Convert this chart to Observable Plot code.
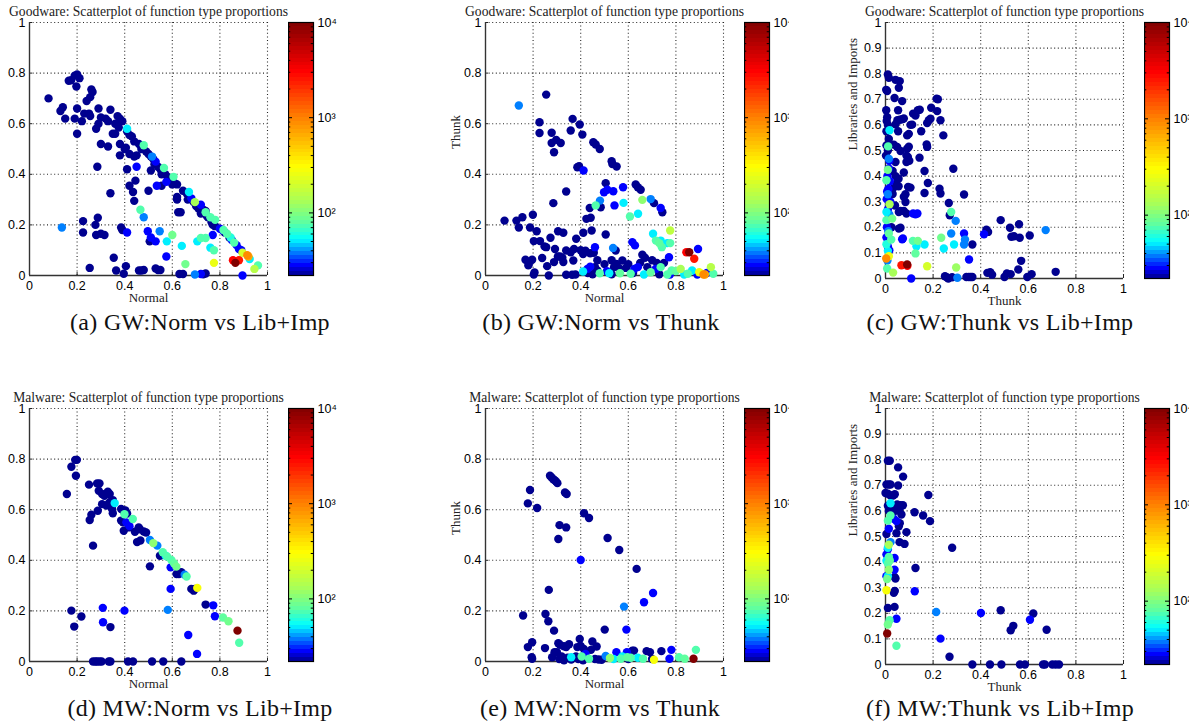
<!DOCTYPE html>
<html><head><meta charset="utf-8">
<script src="https://cdn.jsdelivr.net/npm/d3@7"></script>
<script src="https://cdn.jsdelivr.net/npm/@observablehq/plot@0.6"></script>
<style>
html,body{margin:0;padding:0;background:#fff;}
#root{position:relative;width:1197px;height:723px;overflow:hidden;background:#fff;}
.clip{position:absolute;overflow:hidden;}
.cap{position:absolute;font-family:"Liberation Serif",serif;font-size:24px;letter-spacing:0.3px;white-space:nowrap;transform:translate(-50%,-50%);color:#111;}
</style></head><body><div id="root"></div>
<script>
// ---- data: [x, y, count] ----
const gwNormLib = [
[0.08,0.70,22],[0.13,0.65,22],[0.14,0.665,22],[0.15,0.62,22],[0.165,0.77,22],[0.175,0.772,22],[0.19,0.79,22],[0.2,0.795,22],[0.21,0.78,22],[0.197,0.747,22],
[0.19,0.62,22],[0.2,0.66,22],[0.2,0.56,22],[0.22,0.61,22],[0.23,0.64,22],[0.24,0.69,22],[0.25,0.64,22],[0.255,0.63,22],[0.255,0.705,22],[0.26,0.735,22],[0.265,0.725,22],
[0.28,0.58,22],[0.29,0.66,22],[0.29,0.60,22],[0.30,0.625,22],[0.30,0.52,22],[0.32,0.62,22],[0.33,0.61,22],[0.33,0.51,22],[0.34,0.655,22],
[0.35,0.56,22],[0.36,0.56,22],[0.36,0.60,22],[0.37,0.63,22],[0.375,0.585,22],[0.38,0.62,22],[0.39,0.61,22],[0.38,0.52,22],[0.38,0.475,22],[0.285,0.43,22],[0.34,0.325,22],
[0.40,0.50,22],[0.405,0.505,22],[0.41,0.57,22],[0.42,0.555,22],[0.43,0.55,22],[0.44,0.53,22],[0.42,0.48,22],[0.41,0.42,22],[0.44,0.47,22],[0.45,0.475,22],[0.45,0.43,28],[0.46,0.52,22],[0.47,0.50,22],
[0.42,0.355,22],[0.435,0.33,22],[0.445,0.375,22],[0.44,0.295,22],[0.5,0.335,22],
[0.49,0.49,22],[0.50,0.48,22],[0.51,0.47,22],[0.52,0.46,22],[0.51,0.415,22],[0.525,0.44,22],[0.53,0.45,28],[0.54,0.43,22],[0.55,0.42,22],[0.555,0.40,22],[0.57,0.40,22],[0.58,0.39,22],[0.59,0.38,22],[0.6,0.36,22],[0.6,0.37,22],[0.61,0.365,22],[0.62,0.36,22],[0.575,0.37,28],[0.535,0.355,28],[0.555,0.355,22],
[0.62,0.30,22],[0.62,0.31,22],[0.625,0.25,22],[0.635,0.25,22],[0.645,0.335,22],[0.66,0.325,22],[0.665,0.30,22],[0.68,0.305,28],[0.69,0.29,22],[0.70,0.275,22],[0.71,0.265,22],[0.72,0.28,28],[0.73,0.26,22],[0.74,0.255,22],[0.72,0.245,22],[0.745,0.235,22],[0.75,0.23,22],[0.765,0.21,22],[0.77,0.20,22],[0.78,0.195,22],[0.77,0.16,28],
[0.80,0.185,28],[0.81,0.18,28],[0.82,0.17,22],[0.84,0.15,22],[0.85,0.14,28],[0.87,0.12,28],[0.88,0.105,28],[0.89,0.10,28],[0.895,0.0,28],
[0.41,0.58,50],[0.48,0.515,75],[0.515,0.47,38],[0.565,0.425,75],[0.605,0.39,75],[0.67,0.33,50],[0.695,0.29,130],[0.74,0.25,75],[0.76,0.23,75],[0.78,0.22,75],[0.815,0.18,75],[0.83,0.165,75],[0.845,0.15,60],[0.86,0.13,75],[0.895,0.09,200],[0.915,0.08,900],[0.92,0.075,700],[0.925,0.065,50],[0.96,0.04,75],[0.945,0.026,150],[0.855,0.06,3000],[0.865,0.05,10000],[0.88,0.06,2500],[0.775,0.05,250],[0.655,0.045,90],
[0.136,0.19,38],[0.225,0.215,22],[0.225,0.17,22],[0.277,0.20,22],[0.287,0.228,22],[0.28,0.16,22],[0.30,0.165,22],[0.315,0.16,22],
[0.385,0.19,22],[0.39,0.18,22],[0.41,0.17,28],[0.466,0.26,75],[0.48,0.23,38],[0.497,0.175,28],[0.51,0.15,28],[0.505,0.135,22],[0.547,0.175,38],[0.53,0.135,28],[0.577,0.135,50],[0.60,0.16,90],[0.575,0.075,28],[0.64,0.117,50],[0.705,0.135,50],[0.72,0.148,75],[0.74,0.148,75],[0.76,0.11,50],[0.775,0.10,75],
[0.354,0.07,22],[0.364,0.02,22],[0.253,0.03,22],[0.405,0.037,22],[0.396,0.007,22],[0.46,0.02,22],[0.47,0.02,22],[0.48,0.022,22],[0.53,0.028,22],[0.54,0.022,22],[0.55,0.022,22],[0.63,0.006,22],[0.645,0.006,22],[0.695,0.004,38],[0.72,0.006,28],[0.74,0.008,22],[0.73,0.005,22]
];
const gwNormThunk = [
[0.08,0.217,22],[0.13,0.217,22],[0.155,0.23,22],[0.14,0.19,22],[0.14,0.672,38],[0.255,0.715,22],
[0.227,0.606,22],[0.227,0.563,22],[0.278,0.564,22],[0.278,0.524,22],[0.297,0.536,22],[0.316,0.524,22],[0.288,0.487,22],
[0.366,0.619,22],[0.358,0.573,22],[0.396,0.597,22],[0.407,0.557,22],[0.386,0.428,22],[0.393,0.432,22],[0.412,0.415,28],
[0.453,0.527,22],[0.463,0.518,22],[0.48,0.50,22],[0.53,0.452,22],[0.533,0.441,22],[0.551,0.431,22],[0.505,0.365,22],
[0.498,0.329,28],[0.512,0.339,28],[0.537,0.333,28],[0.578,0.349,28],[0.631,0.36,22],[0.64,0.349,22],[0.652,0.339,22],[0.694,0.302,38],[0.708,0.286,22],[0.736,0.267,28],[0.743,0.25,22],
[0.481,0.296,38],[0.463,0.277,75],[0.484,0.27,22],[0.542,0.277,28],[0.58,0.287,50],[0.659,0.299,110],[0.607,0.233,75],[0.641,0.244,50],
[0.285,0.286,22],[0.339,0.332,22],[0.438,0.267,22],[0.442,0.228,22],[0.424,0.224,22],[0.446,0.178,22],[0.411,0.169,22],[0.381,0.145,22],[0.46,0.112,28],[0.505,0.162,22],[0.536,0.109,38],[0.547,0.099,22],[0.617,0.132,28],[0.628,0.119,28],[0.659,0.082,22],
[0.704,0.165,50],[0.716,0.138,75],[0.73,0.128,80],[0.741,0.112,75],[0.776,0.178,160],[0.776,0.128,75],[0.764,0.128,50],[0.736,0.138,50],[0.771,0.072,28],
[0.844,0.092,3000],[0.856,0.092,10000],[0.877,0.066,2500],[0.893,0.105,28],[0.947,0.033,150],[0.916,0.004,900],[0.922,0.004,700],[0.957,0.007,75],[0.898,0.013,250],
[0.168,0.062,22],[0.182,0.046,22],[0.196,0.062,22],[0.18,0.04,22],[0.203,0.004,22],[0.206,0.012,22],[0.199,0.24,22],[0.187,0.19,22],[0.215,0.175,22],[0.203,0.136,22],[0.229,0.136,22],[0.248,0.115,22],[0.255,0.112,22],[0.238,0.069,22],[0.259,0.037,22],[0.266,0.0,22],[0.273,0.149,22],[0.292,0.105,22],[0.305,0.175,22],[0.327,0.169,22],[0.304,0.075,22],[0.313,0.075,22],[0.323,0.07,22],[0.288,0.053,22],[0.327,0.053,22],[0.339,0.099,22],[0.358,0.092,22],[0.372,0.105,22],[0.369,0.059,22],[0.339,0.003,22],[0.364,0.003,22],[0.378,0.004,22],
[0.40,0.10,22],[0.41,0.085,22],[0.42,0.098,22],[0.44,0.088,22],[0.455,0.09,22],[0.47,0.06,22],
[0.43,0.01,22],[0.45,0.005,22],[0.47,0.02,22],[0.5,0.045,22],[0.53,0.06,22],[0.53,0.005,22],[0.56,0.03,22],[0.6,0.045,22],[0.62,0.01,22],[0.65,0.05,22],[0.67,0.07,22],[0.7,0.06,22],[0.72,0.05,22],[0.73,0.005,22],[0.75,0.05,22],
[0.41,0.016,50],[0.428,0.026,28],[0.44,0.035,28],[0.46,0.033,22],[0.48,0.009,75],[0.51,0.017,28],[0.52,0.009,50],[0.54,0.033,22],[0.55,0.046,22],[0.565,0.009,80],[0.575,0.059,22],[0.59,0.03,22],[0.61,0.007,75],[0.625,0.026,28],[0.64,0.033,28],[0.666,0.004,50],[0.68,0.033,22],[0.694,0.013,80],[0.715,0.026,28],[0.736,0.033,75],[0.764,0.004,75],[0.775,0.004,28],[0.782,0.02,75],[0.8,0.018,80],[0.82,0.026,130],[0.835,0.004,50],[0.85,0.007,75],[0.868,0.02,50],[0.89,0.004,28],[0.93,0.01,28]
];
const gwThunkLib = [
[0.01,0.797,22],[0.014,0.784,22],[0.003,0.737,22],[0.007,0.732,22],[0.003,0.657,22],[0.007,0.63,22],[0.005,0.615,22],[0.01,0.6,22],[0.004,0.575,22],[0.014,0.545,22],[0.004,0.52,22],[0.01,0.5,22],[0.002,0.48,22],[0.016,0.46,28],[0.014,0.43,28],[0.008,0.40,28],[0.018,0.38,28],[0.012,0.35,28],[0.005,0.31,28],[0.02,0.30,28],[0.01,0.27,28],[0.016,0.25,38],[0.006,0.2,28],[0.012,0.185,38],[0.004,0.16,28],[0.01,0.125,28],[0.016,0.11,28],
[0.017,0.579,50],[0.011,0.516,75],[0.014,0.468,38],[0.01,0.425,90],[0.004,0.384,75],[0.007,0.34,28],[0.01,0.329,38],[0.017,0.29,130],[0.004,0.228,75],[0.028,0.234,90],[0.014,0.176,80],[0.024,0.152,75],[0.004,0.134,60],[0.01,0.108,50],[0.014,0.087,250],[0.003,0.078,900],[0.007,0.039,75],[0.032,0.023,130],[0.004,0.26,50],[0.008,0.07,38],
[0.042,0.776,22],[0.06,0.771,22],[0.056,0.745,22],[0.038,0.705,22],[0.07,0.693,22],[0.053,0.657,22],[0.05,0.618,22],[0.06,0.62,22],[0.07,0.622,22],[0.077,0.625,22],[0.042,0.602,22],[0.053,0.575,22],[0.035,0.523,22],[0.049,0.514,22],[0.063,0.498,22],[0.042,0.455,22],[0.03,0.42,22],[0.042,0.4,22],[0.055,0.39,22],[0.045,0.37,22],[0.055,0.36,22],[0.03,0.35,22],[0.077,0.414,22],[0.091,0.507,22],[0.098,0.515,22],[0.088,0.48,22],[0.094,0.475,22],[0.088,0.455,22],[0.1,0.46,22],[0.091,0.559,22],[0.098,0.565,22],[0.112,0.601,22],[0.105,0.6,22],[0.095,0.358,22],[0.105,0.355,22],[0.084,0.329,22],[0.084,0.299,22],[0.077,0.319,22],[0.063,0.264,22],[0.056,0.26,22],[0.077,0.264,22],[0.088,0.254,22],[0.056,0.195,22],[0.063,0.198,22],[0.07,0.153,28],[0.03,0.33,22],[0.04,0.285,22],[0.025,0.2,22],
[0.116,0.644,22],[0.126,0.637,22],[0.136,0.657,22],[0.144,0.659,22],[0.15,0.575,22],[0.143,0.472,22],[0.164,0.42,22],[0.173,0.524,22],[0.175,0.514,22],[0.178,0.373,22],[0.164,0.334,22],[0.175,0.607,22],[0.182,0.618,22],[0.192,0.667,22],[0.189,0.624,22],[0.215,0.702,22],[0.22,0.70,22],[0.217,0.654,22],[0.231,0.618,22],[0.243,0.559,22],[0.227,0.351,22],[0.231,0.332,22],
[0.116,0.254,28],[0.126,0.251,28],[0.134,0.254,28],[0.285,0.429,22],[0.33,0.328,22],[0.266,0.295,22],[0.27,0.247,22],[0.276,0.26,75],[0.295,0.225,38],[0.276,0.176,38],[0.234,0.159,90],[0.288,0.133,50],[0.245,0.117,50],[0.297,0.043,120],[0.175,0.048,200],[0.115,0.147,75],[0.136,0.147,90],[0.13,0.126,50],[0.126,0.098,80],[0.164,0.133,50],[0.073,0.156,28],[0.067,0.052,2500],[0.091,0.055,10000],[0.092,0.05,3000],[0.108,0.0,28],
[0.25,0.009,22],[0.259,0.004,22],[0.264,0.0,22],[0.302,0.003,38],[0.28,0.005,22],[0.33,0.176,28],[0.334,0.152,38],[0.33,0.133,38],[0.365,0.133,22],[0.351,0.074,28],[0.34,0.006,22],[0.35,0.006,22],[0.358,0.006,22],[0.365,0.006,22],[0.414,0.173,28],[0.424,0.191,22],[0.431,0.182,22],[0.428,0.022,22],[0.44,0.025,22],[0.448,0.015,22],[0.484,0.228,22],[0.5,0.006,22],[0.51,0.02,22],[0.526,0.017,22],[0.523,0.198,22],[0.529,0.163,22],[0.54,0.165,22],[0.561,0.212,22],[0.564,0.159,22],[0.57,0.069,22],[0.558,0.035,22],[0.606,0.168,22],[0.596,0.006,22],[0.614,0.017,22],[0.673,0.189,38],[0.715,0.026,22]
];
const mwNormLib = [
[0.157,0.662,22],[0.176,0.77,22],[0.192,0.797,22],[0.199,0.797,22],[0.195,0.734,22],[0.25,0.699,22],[0.284,0.704,22],[0.294,0.704,22],[0.291,0.675,22],[0.305,0.662,22],[0.329,0.671,22],[0.337,0.662,22],[0.315,0.655,22],[0.305,0.622,22],[0.323,0.616,22],[0.333,0.625,22],[0.34,0.632,22],[0.35,0.638,22],[0.347,0.603,22],[0.35,0.586,22],[0.385,0.603,22],[0.395,0.597,22],[0.403,0.597,22],[0.41,0.585,22],[0.385,0.557,22],[0.393,0.55,22],[0.396,0.517,22],[0.407,0.55,28],[0.417,0.53,22],[0.443,0.513,22],[0.459,0.53,22],[0.463,0.523,22],[0.452,0.472,22],[0.466,0.478,22],[0.48,0.514,22],[0.49,0.51,22],[0.506,0.376,22],[0.548,0.418,22],[0.593,0.372,28],[0.618,0.346,22],[0.628,0.346,22],[0.638,0.353,22],[0.593,0.287,28],[0.68,0.287,22],[0.69,0.28,22],[0.695,0.287,22],[0.74,0.225,22],[0.772,0.222,28],[0.779,0.179,28],[0.704,0.03,28],[0.667,0.105,28],[0.399,0.201,28],[0.267,0.458,22],[0.253,0.559,22],[0.26,0.58,22],[0.287,0.596,22],[0.176,0.201,22],[0.218,0.178,22],[0.188,0.138,22],[0.308,0.212,28],[0.309,0.155,28],[0.34,0.136,22],
[0.358,0.626,50],[0.399,0.582,75],[0.434,0.563,75],[0.506,0.48,38],[0.52,0.468,110],[0.537,0.458,38],[0.56,0.432,75],[0.572,0.418,50],[0.578,0.415,75],[0.596,0.401,75],[0.607,0.388,80],[0.617,0.375,90],[0.652,0.343,38],[0.66,0.336,75],[0.705,0.291,280],[0.813,0.174,80],[0.836,0.159,90],[0.874,0.122,10000],[0.881,0.074,75],[0.581,0.204,38],[0.42,0.535,28],
[0.267,0,22],[0.277,0,22],[0.284,0,22],[0.294,0,22],[0.303,0,22],[0.333,0,22],[0.34,0,22],[0.414,0,22],[0.435,0,22],[0.515,0,22],[0.562,0,22],[0.638,0,22]
];
const mwNormThunk = [
[0.158,0.182,22],[0.178,0.057,22],[0.196,0.076,22],[0.194,0.017,22],[0.196,0.011,22],[0.178,0.625,22],[0.187,0.678,22],[0.217,0.607,22],[0.271,0.734,22],[0.278,0.727,22],[0.285,0.72,22],[0.29,0.717,22],[0.296,0.712,22],[0.302,0.705,22],[0.334,0.668,22],[0.341,0.662,22],[0.311,0.539,22],[0.339,0.53,22],[0.306,0.484,22],[0.414,0.586,22],[0.435,0.567,22],[0.4,0.401,28],[0.513,0.488,22],[0.562,0.441,22],[0.635,0.366,22],[0.582,0.217,38],[0.666,0.234,28],[0.704,0.271,28],[0.266,0.283,22],[0.252,0.188,22],[0.264,0.159,22],[0.288,0.122,22],[0.25,0.053,22],[0.501,0.126,22],[0.592,0.126,28],
[0.306,0.072,22],[0.313,0.066,22],[0.33,0.06,22],[0.339,0.057,22],[0.351,0.068,22],[0.396,0.089,22],[0.449,0.079,22],[0.467,0.059,22],[0.386,0.057,22],[0.4,0.061,22],[0.413,0.05,22],[0.443,0.046,22],
[0.28,0.017,22],[0.29,0.037,22],[0.3,0.037,22],[0.31,0.01,22],[0.32,0.02,22],[0.33,0.005,22],[0.345,0.015,22],[0.36,0.008,22],[0.38,0.02,22],[0.39,0.01,22],[0.41,0.005,22],[0.42,0.03,28],[0.46,0.01,22],[0.475,0.008,22],[0.488,0.007,22],
[0.36,0.017,50],[0.404,0.02,75],[0.435,0.011,75],[0.505,0.022,38],[0.523,0.014,110],[0.538,0.01,50],[0.55,0.037,28],[0.568,0.011,75],[0.575,0.02,50],[0.596,0.017,80],[0.61,0.015,75],[0.594,0.037,28],[0.617,0.043,22],[0.624,0.043,22],[0.64,0.015,50],[0.662,0.011,75],[0.677,0.041,22],[0.691,0.037,22],[0.708,0.007,280],[0.739,0.041,22],[0.781,0.046,28],[0.773,0.011,28],[0.813,0.017,75],[0.837,0.011,80],[0.884,0.046,75],[0.874,0.011,10000],[0.6,0.01,22],[0.7,0.01,22]
];
const mwThunkLib = [
[0.01,0.796,22],[0.018,0.796,22],[0.053,0.77,22],[0.074,0.734,22],[0.004,0.703,22],[0.014,0.703,22],[0.021,0.703,22],[0.053,0.699,22],[0.0,0.67,22],[0.01,0.667,22],[0.021,0.66,22],[0.032,0.66,22],[0.039,0.665,22],[0.18,0.662,22],[0.01,0.62,22],[0.021,0.615,22],[0.014,0.6,22],[0.032,0.6,22],[0.042,0.6,22],[0.049,0.625,22],[0.063,0.622,22],[0.073,0.622,22],[0.06,0.61,22],[0.067,0.586,22],[0.035,0.569,28],[0.046,0.56,28],[0.122,0.595,22],[0.158,0.582,22],[0.187,0.56,22],[0.06,0.552,22],[0.056,0.54,22],[0.014,0.53,28],[0.088,0.517,22],[0.046,0.513,22],[0.004,0.51,22],[0.059,0.478,22],[0.08,0.471,22],[0.28,0.456,22],[0.004,0.43,28],[0.038,0.416,28],[0.038,0.37,28],[0.126,0.377,22],[0.038,0.342,22],[0.042,0.336,22],[0.039,0.287,22],[0.035,0.28,22],[0.123,0.286,28],[0.01,0.221,22],[0.038,0.225,22],[0.046,0.179,28],[0.213,0.205,38],[0.231,0.101,28],[0.269,0.03,22],[0.401,0.201,28],[0.484,0.212,22],[0.526,0.134,22],[0.537,0.151,22],[0.607,0.175,28],[0.621,0.199,22],[0.677,0.136,22],[0.004,0.345,28],[0.01,0.45,28],
[0.021,0.63,50],[0.021,0.582,75],[0.01,0.562,75],[0.021,0.478,38],[0.014,0.468,130],[0.01,0.456,50],[0.014,0.42,75],[0.004,0.405,50],[0.018,0.406,80],[0.01,0.395,75],[0.014,0.37,110],[0.007,0.334,90],[0.01,0.345,50],[0.004,0.29,280],[0.017,0.173,75],[0.01,0.156,90],[0.007,0.121,10000],[0.046,0.073,75],
[0.365,0,22],[0.439,0,22],[0.487,0,22],[0.565,0,22],[0.586,0,22],[0.662,0,22],[0.67,0,22],[0.701,0,22],[0.715,0,22],[0.729,0,22]
];

// ---- ticks / labels ----
const xTicks = [0, 0.2, 0.4, 0.6, 0.8, 1];
const yTicksCoarse = [0, 0.2, 0.4, 0.6, 0.8, 1];
const yTicksFine = [0, 0.1, 0.2, 0.3, 0.4, 0.5, 0.6, 0.7, 0.8, 0.9, 1];
const colorbarTicks = [100, 1000, 10000];
const colorbarMinorTicks = [30, 40, 50, 60, 70, 80, 90, 200, 300, 400, 500, 600, 700, 800, 900, 2000, 3000, 4000, 5000, 6000, 7000, 8000, 9000];
const colorbarMin = 22, colorbarMax = 10000;
const titles = ["Goodware: Scatterplot of function type proportions", "Malware: Scatterplot of function type proportions"];
const captions = ["(a) GW:Norm vs Lib+Imp", "(b) GW:Norm vs Thunk", "(c) GW:Thunk vs Lib+Imp",
                  "(d) MW:Norm vs Lib+Imp", "(e) MW:Norm vs Thunk", "(f) MW:Thunk vs Lib+Imp"];
// jet-like colormap stops on log count
const colorDomain = [22, 28, 38, 52, 80, 130, 300, 1000, 3000, 10000];
const colorRange = ["#00008f", "#0000ff", "#0080ff", "#00ffff", "#60ff9f", "#a8ff58", "#ffff00", "#ff8000", "#ff0000", "#800000"];

const colorSpec = {type: "log", domain: colorDomain, range: colorRange, interpolate: "rgb", clamp: true};

const panels = [
  {data: gwNormLib,   fl: 29,  ft: 22,  fh: 253, yt: yTicksCoarse, xl: "Normal", yl: null, ydx: 0, title: titles[0], cap: captions[0], cx: 200,  cy: 322, cb: 288,  clipR: null},
  {data: gwNormThunk, fl: 485, ft: 22,  fh: 253, yt: yTicksCoarse, xl: "Normal", yl: "Thunk", ydx: -30, title: titles[0], cap: captions[1], cx: 601,  cy: 322, cb: 744,  clipR: 789},
  {data: gwThunkLib,  fl: 885, ft: 22,  fh: 256, yt: yTicksFine,   xl: "Thunk",  yl: "Libraries and Imports", ydx: -33, title: titles[0], cap: captions[2], cx: 1000, cy: 322, cb: 1144, clipR: 1189},
  {data: mwNormLib,   fl: 29,  ft: 408, fh: 253, yt: yTicksCoarse, xl: "Normal", yl: null, ydx: 0, title: titles[1], cap: captions[3], cx: 200,  cy: 708, cb: 288,  clipR: null},
  {data: mwNormThunk, fl: 485, ft: 408, fh: 253, yt: yTicksCoarse, xl: "Normal", yl: "Thunk", ydx: -30, title: titles[1], cap: captions[4], cx: 600,  cy: 708, cb: 744,  clipR: 789},
  {data: mwThunkLib,  fl: 885, ft: 408, fh: 256, yt: yTicksFine,   xl: "Thunk",  yl: "Libraries and Imports", ydx: -33, title: titles[1], cap: captions[5], cx: 1000, cy: 708, cb: 1144, clipR: 1189}
];

const root = document.getElementById("root");
const FW = 238, ML = 70, MT = 24, MR = 14, MB = 40;
const fmt = d => String(+d.toFixed(1));
const sup = {"2": "\u00b2", "3": "\u00b3", "4": "\u2074"};
const serif = "Liberation Serif, Times New Roman, serif";
const gridStyle = {stroke: "#000", strokeOpacity: 0.85, strokeWidth: 1.1, strokeDasharray: "1,2.6"};

for (const p of panels) {
  const sorted = d3.sort(p.data, d => d[2]);
  const tx = 3 / FW, ty = 3 / p.fh;
  const marks = [
    Plot.ruleX(xTicks.slice(1), gridStyle),
    Plot.ruleY(p.yt.slice(1), gridStyle),
    Plot.ruleX(xTicks, {y1: 0, y2: ty, stroke: "#222"}),
    Plot.ruleY(p.yt, {x1: 0, x2: tx, stroke: "#222"}),
    Plot.ruleX([0], {stroke: "#333", strokeWidth: 1.4}),
    Plot.ruleY([0], {stroke: "#333", strokeWidth: 1.4}),
    Plot.dot(sorted, {x: d => d[0], y: d => d[1], fill: d => d[2], r: 4.2}),
    Plot.text([p.title], {text: d => d, frameAnchor: "top", dy: -16, fontFamily: serif, fontSize: 13.6, fill: "#222"}),
    Plot.text([p.xl], {text: d => d, frameAnchor: "bottom", dy: 26, fontFamily: serif, fontSize: 13, fill: "#222"})
  ];
  if (p.yl) marks.push(Plot.text([p.yl], {text: d => d, frameAnchor: "left", dx: p.ydx, rotate: -90, fontFamily: serif, fontSize: 13, fill: "#222"}));
  const chart = Plot.plot({
    width: ML + FW + MR, height: MT + p.fh + MB,
    marginLeft: ML, marginTop: MT, marginRight: MR, marginBottom: MB,
    style: {background: "transparent", fontFamily: "Liberation Sans, Arial, sans-serif", fontSize: "12.5px", color: "#000", overflow: "visible"},
    x: {domain: [0, 1], ticks: xTicks, tickFormat: fmt, tickSize: 0, tickPadding: 6, label: null},
    y: {domain: [0, 1], ticks: p.yt, tickFormat: fmt, tickSize: 0, tickPadding: 4, label: null},
    color: colorSpec,
    marks
  });
  chart.style.position = "absolute";
  chart.style.left = (p.fl - ML) + "px";
  chart.style.top = (p.ft - MT) + "px";
  chart.style.maxWidth = "none";
  root.appendChild(chart);

  // colorbar
  const n = 64, lmin = Math.log10(colorbarMin), lmax = Math.log10(colorbarMax);
  const bands = d3.range(n).map(i => ({a: 0, b: 1,
    lo: 10 ** (lmin + (lmax - lmin) * i / n),
    hi: 10 ** (lmin + (lmax - lmin) * (i + 1) / n),
    v: 10 ** (lmin + (lmax - lmin) * (i + 0.5) / n)}));
  const cb = Plot.plot({
    width: 25 + 45, height: p.fh + 20,
    marginLeft: 0, marginRight: 45, marginTop: 10, marginBottom: 10,
    style: {background: "transparent", fontFamily: "Liberation Sans, Arial, sans-serif", fontSize: "12.5px", color: "#000", overflow: "visible"},
    x: {domain: [0, 1], axis: null},
    y: {type: "log", domain: [colorbarMin, colorbarMax], axis: "right", ticks: colorbarTicks,
        tickFormat: d => "10" + sup[String(Math.round(Math.log10(d)))], tickSize: 0, tickPadding: 4, label: null},
    color: colorSpec,
    marks: [
      Plot.rect(bands, {x1: "a", x2: "b", y1: "lo", y2: "hi", fill: "v", shapeRendering: "crispEdges"}),
      Plot.ruleY(colorbarTicks, {x1: 0, x2: 0.16, stroke: "#000"}),
      Plot.ruleY(colorbarTicks, {x1: 0.84, x2: 1, stroke: "#000"}),
      Plot.ruleY(colorbarMinorTicks, {x1: 0, x2: 0.09, stroke: "#000"}),
      Plot.ruleY(colorbarMinorTicks, {x1: 0.91, x2: 1, stroke: "#000"}),
      Plot.frame({stroke: "#000", strokeWidth: 1.2})
    ]
  });
  cb.style.maxWidth = "none";
  const wrap = document.createElement("div");
  wrap.className = "clip";
  wrap.style.left = p.cb + "px";
  wrap.style.top = (p.ft - 10) + "px";
  wrap.style.width = (p.clipR ? p.clipR - p.cb : 70) + "px";
  wrap.style.height = (p.fh + 20) + "px";
  wrap.appendChild(cb);
  root.appendChild(wrap);

  const cap = document.createElement("div");
  cap.className = "cap";
  cap.style.left = p.cx + "px";
  cap.style.top = p.cy + "px";
  cap.textContent = p.cap;
  root.appendChild(cap);
}
</script></body></html>
